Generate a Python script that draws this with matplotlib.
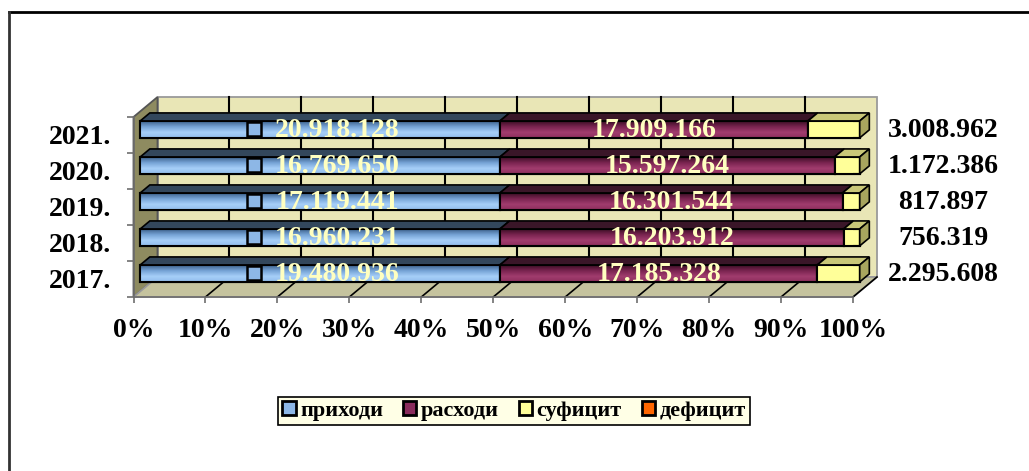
# 100% stacked bar chart: приходи / расходи / суфицит / дефицит, 2017-2021
import numpy as np
import matplotlib
matplotlib.use("Agg")
import matplotlib.pyplot as plt
from matplotlib.patches import Polygon, Patch
from matplotlib.lines import Line2D
from matplotlib.transforms import IdentityTransform
from matplotlib.colors import to_rgb

years = ["2017.", "2018.", "2019.", "2020.", "2021."]
prihodi = [19480936, 16960231, 17119441, 16769650, 20918128]
rashodi = [17185328, 16203912, 16301544, 15597264, 17909166]
suficit = [2295608, 756319, 817897, 1172386, 3008962]
deficit = [0, 0, 0, 0, 0]
series_names = ["приходи", "расходи", "суфицит", "дефицит"]
x_ticks = [0, 10, 20, 30, 40, 50, 60, 70, 80, 90, 100]

plt.rcParams["font.family"] = ["Liberation Serif", "DejaVu Serif"]
plt.rcParams["font.weight"] = "bold"

# colours: front gradient stops (top -> bottom), top face, side face
front_cols = [["#3d628c", "#76a3d6", "#a6cff8", "#92bdec"],
              ["#3c0f26", "#7a2450", "#a13c6e", "#8e2f5e"],
              ["#ffff99", "#ffff99"],
              ["#ff6600", "#ff6600"]]
top_cols = ["#33475c", "#3a1628", "#c9c778", "#b04a00"]
side_cols = ["#2c4d70", "#5a1a3a", "#a8a55e", "#a04000"]
legend_cols = ["#8db7e6", "#8a2c5c", "#ffff99", "#ff6600"]

fig = plt.figure(figsize=(10.29, 4.71), dpi=100)
ax = fig.add_axes([133.5 / 1029, 1 - 297 / 471, (853 - 133.5) / 1029, 180 / 471])
ax.set_xlim(0, 100)
ax.set_ylim(-0.5, 4.5)
ax.set_autoscale_on(False)
ax.patch.set_visible(False)

DX, DY = 24, 20  # depth of the 3d box in pixels


def P(x, y, f):
    px, py = ax.transData.transform((x, y))
    return (px + DX * f, py + DY * f)


def poly(pts, fc, ec="black", lw=1.3, z=1.0):
    p = Polygon(pts, closed=True, facecolor=fc, edgecolor=ec, linewidth=lw,
                transform=IdentityTransform(), clip_on=False, zorder=z)
    ax.add_patch(p)
    return p


def gradient(stops, n=64):
    stops = [np.array(to_rgb(c)) for c in stops]
    pos = np.linspace(0, 1, len(stops))
    t = np.linspace(0, 1, n)
    arr = np.zeros((n, 1, 3))
    for k in range(3):
        arr[:, 0, k] = np.interp(t, pos, [s[k] for s in stops])
    return arr


# walls
poly([P(0, -0.5, 1), P(100, -0.5, 1), P(100, 4.5, 1), P(0, 4.5, 1)], "#e9e6b6", ec="#9a9a9a", z=0.2)
poly([P(0, -0.5, 0), P(0, 4.5, 0), P(0, 4.5, 1), P(0, -0.5, 1)], "#8e8b60", ec="#555555", z=0.3)
poly([P(0, -0.5, 0), P(100, -0.5, 0), P(100, -0.5, 1), P(0, -0.5, 1)], "#c5c39e", ec="#9a9a9a", z=0.3)
for t in x_ticks[1:-1]:
    a, b = P(t, -0.5, 1), P(t, 4.5, 1)
    ax.plot([a[0], b[0]], [a[1], b[1]], color="black", lw=1.5, transform=IdentityTransform(), clip_on=False, zorder=0.4)
for t in x_ticks[1:]:
    a, b = P(t, -0.5, 0), P(t, -0.5, 1)
    ax.plot([a[0], b[0]], [a[1], b[1]], color="black", lw=1.2, transform=IdentityTransform(), clip_on=False, zorder=0.4)

# bars
h = 0.235
f1, f2 = 0.28, 0.68
data = np.array([prihodi, rashodi, suficit, deficit], dtype=float)
totals = data.sum(axis=0)
z = 1.0
for i in range(len(years) - 1, -1, -1):
    pct = data[:, i] / totals[i] * 100
    left = np.concatenate([[0], np.cumsum(pct)[:-1]])
    last = max(j for j in range(4) if pct[j] > 0)
    for j in range(4):
        if pct[j] <= 0:
            continue
        x0, x1 = left[j], left[j] + pct[j]
        front = poly([P(x0, i - h, f1), P(x1, i - h, f1), P(x1, i + h, f1), P(x0, i + h, f1)],
                     front_cols[j][0], lw=1.5, z=z)
        (ax0, ay0), (ax1, ay1) = P(x0, i - h, f1), P(x1, i + h, f1)
        im = ax.imshow(gradient(front_cols[j]), extent=(ax0, ax1, ay0, ay1), aspect="auto",
                       transform=IdentityTransform(), interpolation="bilinear", zorder=z + 0.01)
        im.set_clip_path(front)
        poly([P(x0, i - h, f1), P(x1, i - h, f1), P(x1, i + h, f1), P(x0, i + h, f1)],
             "none", lw=1.5, z=z + 0.02)
        poly([P(x0, i + h, f1), P(x1, i + h, f1), P(x1, i + h, f2), P(x0, i + h, f2)],
             top_cols[j], lw=1.2, z=z + 0.03)
        if j == last:
            poly([P(x1, i - h, f1), P(x1, i - h, f2), P(x1, i + h, f2), P(x1, i + h, f1)],
                 side_cols[j], lw=1.2, z=z + 0.03)
        z += 0.05

    # labels
    cx, cy = P(pct[0] / 2, i, f1)
    ax.text(cx + 17, cy - 1, f"{prihodi[i]:,}".replace(",", "."), transform=IdentityTransform(),
            ha="center", va="center", fontsize=20, color="#ffffc0", zorder=5)
    ax.plot(cx - 66, cy, marker="s", ms=10, mfc=legend_cols[0], mec="black", mew=1.8,
            transform=IdentityTransform(), clip_on=False, zorder=5)
    cx, cy = P(left[1] + pct[1] / 2, i, f1)
    ax.text(cx, cy - 1, f"{rashodi[i]:,}".replace(",", "."), transform=IdentityTransform(),
            ha="center", va="center", fontsize=20, color="#ffffc0", zorder=5)
    rx, _ = P(100, i, 0)
    ax.text(rx + 90, cy - 1, f"{suficit[i]:,}".replace(",", "."), transform=IdentityTransform(),
            ha="center", va="center", fontsize=20, color="black", zorder=5)

# axes, ticks
for s in ["top", "right"]:
    ax.spines[s].set_visible(False)
for s in ["left", "bottom"]:
    ax.spines[s].set_color("#6e6e6e")
    ax.spines[s].set_linewidth(1.2)
ax.set_yticks(range(len(years)), years, fontsize=20)
ax.set_yticks(np.arange(-0.5, 5, 1), minor=True)
ax.tick_params(axis="y", which="major", length=0, pad=16)
ax.tick_params(axis="y", which="minor", length=5, color="#6e6e6e", width=1.2)
ax.set_xticks(x_ticks, [f"{t}%" for t in x_ticks], fontsize=20)
ax.tick_params(axis="x", length=4.5, color="#6e6e6e", width=1.2, pad=10.5)

# legend
handles = [Patch(facecolor=c, edgecolor="black", linewidth=2) for c in legend_cols]
leg = fig.legend(handles, series_names, loc="center", bbox_to_anchor=(514 / 1029, 1 - 411 / 471),
                 ncol=4, fancybox=False, edgecolor="black", facecolor="#ffffe6", framealpha=1,
                 prop={"size": 16, "weight": "bold"}, handlelength=0.6, handleheight=0.6,
                 handletextpad=0.2, columnspacing=0.9, borderpad=0.2)
leg.get_frame().set_linewidth(1.2)

# chart frame (only top and left edges are inside the picture)
fig.add_artist(Line2D([9 / 1029, 1], [1 - 12 / 471, 1 - 12 / 471], color="black", lw=2, transform=fig.transFigure))
fig.add_artist(Line2D([9 / 1029, 9 / 1029], [0, 1 - 12 / 471], color="#333333", lw=2, transform=fig.transFigure))

fig.savefig("out.png", dpi=100)
